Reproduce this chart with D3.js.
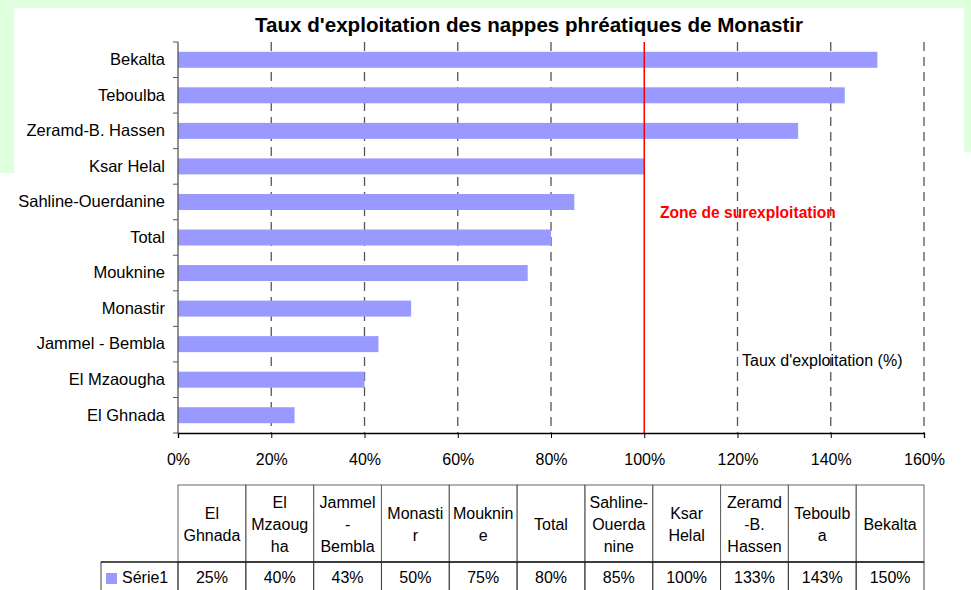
<!DOCTYPE html>
<meta charset="utf-8">
<style>
    body { margin: 0; background: #fff; }
    svg text { font-family: "Liberation Sans", Arial, sans-serif; fill: #000; }
    .cat text { font-size: 16.5px; }
    .xax text { font-size: 16px; }
    .tbl text { font-size: 16px; text-anchor: middle; }
</style>
<svg width="971" height="590"></svg>
<script src="https://d3js.org/d3.v7.min.js"></script>
<script>
    // data, in table order (lowest first)
    var categories = ["El Ghnada", "El Mzaougha", "Jammel - Bembla", "Monastir", "Mouknine", "Total",
        "Sahline-Ouerdanine", "Ksar Helal", "Zeramd-B. Hassen", "Teboulba", "Bekalta"];
    var values = [25, 40, 43, 50, 75, 80, 85, 100, 133, 143, 150];
    // header text as wrapped in the table cells
    var headerLines = [["El", "Ghnada"], ["El", "Mzaoug", "ha"], ["Jammel", "-", "Bembla"], ["Monasti", "r"],
        ["Mouknin", "e"], ["Total"], ["Sahline-", "Ouerda", "nine"], ["Ksar", "Helal"],
        ["Zeramd", "-B.", "Hassen"], ["Teboulb", "a"], ["Bekalta"]];
    var tickValues = [0, 20, 40, 60, 80, 100, 120, 140, 160];
    var seriesName = "Série1";
    var threshold = 100;

    var svg = d3.select("svg");
    var pLeft = 178, pRight = 924, pTop = 42, pBottom = 433;

    // green page background peeking round the white sheet
    svg.append("rect").attr("x", 0).attr("y", 0).attr("width", 971).attr("height", 8).attr("fill", "#dfffdf");
    svg.append("rect").attr("x", 0).attr("y", 0).attr("width", 14).attr("height", 173).attr("fill", "#dfffdf");
    svg.append("rect").attr("x", 964).attr("y", 0).attr("width", 7).attr("height", 152).attr("fill", "#dfffdf");

    var x = d3.scaleLinear().domain([0, 160]).range([pLeft, pRight]);
    var y = d3.scaleBand()
        .domain(categories.slice().reverse())
        .range([pTop, pBottom])
        .paddingInner(0.55)
        .paddingOuter(0.275);

    svg.append("text")
        .attr("x", 529).attr("y", 32)
        .attr("text-anchor", "middle")
        .style("font-size", "20.6px").style("font-weight", "bold")
        .text("Taux d'exploitation des nappes phréatiques de Monastir");

    // dashed vertical grid
    svg.append("g").selectAll("line")
        .data(tickValues.filter(function(d) { return d > 0 && d !== threshold; }))
        .enter().append("line")
        .attr("x1", function(d) { return x(d); }).attr("x2", function(d) { return x(d); })
        .attr("y1", pTop).attr("y2", pBottom)
        .attr("stroke", "#555").attr("stroke-width", 1.3)
        .attr("stroke-dasharray", "9,6");

    // bars
    svg.append("g").selectAll("rect")
        .data(categories)
        .enter().append("rect")
        .attr("x", x(0))
        .attr("y", function(d) { return y(d); })
        .attr("width", function(d, i) { return x(values[i]) - x(0); })
        .attr("height", y.bandwidth())
        .attr("fill", "#9999ff");

    // red 100% line
    svg.append("line")
        .attr("x1", x(threshold)).attr("x2", x(threshold))
        .attr("y1", pTop).attr("y2", pBottom)
        .attr("stroke", "#ff0000").attr("stroke-width", 1.5);

    // y axis: labels at band centres, ticks at band edges
    var yAxis = svg.append("g").attr("class", "cat")
        .attr("transform", "translate(" + pLeft + ",0)")
        .call(d3.axisLeft(y).tickSize(0).tickPadding(13));
    yAxis.select(".domain").remove();
    var edges = categories.map(function(d) { return y(d) - y.step() * y.paddingInner() / 2; }).concat([pBottom]);
    svg.append("g").selectAll("line")
        .data(edges)
        .enter().append("line")
        .attr("x1", pLeft - 5).attr("x2", pLeft)
        .attr("y1", function(d) { return d; }).attr("y2", function(d) { return d; })
        .attr("stroke", "#555");
    svg.append("line")
        .attr("x1", pLeft).attr("x2", pLeft).attr("y1", pTop).attr("y2", pBottom)
        .attr("stroke", "#555").attr("stroke-width", 1.3);

    // x axis
    var xAxis = svg.append("g").attr("class", "xax")
        .attr("transform", "translate(0," + pBottom + ")")
        .call(d3.axisBottom(x).tickValues(tickValues).tickSize(5).tickPadding(16)
            .tickFormat(function(d) { return d + "%"; }));
    xAxis.select(".domain").attr("stroke", "#000").attr("stroke-width", 1.3);

    svg.append("text")
        .attr("x", 660).attr("y", 218)
        .style("font-size", "15.6px").style("font-weight", "bold").style("fill", "#ff0000")
        .text("Zone de surexploitation");
    svg.append("text")
        .attr("x", 742).attr("y", 366)
        .style("font-size", "16px")
        .text("Taux d'exploitation (%)");

    // data table
    var col = d3.scaleBand().domain(categories).range([pLeft, pRight]);
    var hTop = 485, hBot = 562, rBot = 592, lineH = 22;
    var tbl = svg.append("g").attr("class", "tbl");
    tbl.selectAll("rect.h")
        .data(categories)
        .enter().append("rect")
        .attr("x", function(d) { return col(d); }).attr("y", hTop)
        .attr("width", col.bandwidth()).attr("height", hBot - hTop)
        .attr("fill", "none").attr("stroke", "#666");
    tbl.selectAll("rect.v")
        .data(categories)
        .enter().append("rect")
        .attr("x", function(d) { return col(d); }).attr("y", hBot)
        .attr("width", col.bandwidth()).attr("height", rBot - hBot)
        .attr("fill", "none").attr("stroke", "#444");
    tbl.append("rect")
        .attr("x", 101).attr("y", hBot).attr("width", pLeft - 101).attr("height", rBot - hBot)
        .attr("fill", "none").attr("stroke", "#444");
    tbl.append("line")
        .attr("x1", 101).attr("x2", pRight).attr("y1", hBot).attr("y2", hBot)
        .attr("stroke", "#000");

    var mid = (hTop + hBot) / 2;
    categories.forEach(function(c, i) {
        var lines = headerLines[i];
        lines.forEach(function(s, j) {
            tbl.append("text")
                .attr("x", col(c) + col.bandwidth() / 2)
                .attr("y", mid + (j - (lines.length - 1) / 2) * lineH + 6)
                .text(s);
        });
        tbl.append("text")
            .attr("x", col(c) + col.bandwidth() / 2)
            .attr("y", 583)
            .text(values[i] + "%");
    });
    tbl.append("rect")
        .attr("x", 106).attr("y", 573).attr("width", 11).attr("height", 11)
        .attr("fill", "#9999ff");
    tbl.append("text")
        .attr("x", 122).attr("y", 583)
        .style("text-anchor", "start")
        .text(seriesName);
</script>
